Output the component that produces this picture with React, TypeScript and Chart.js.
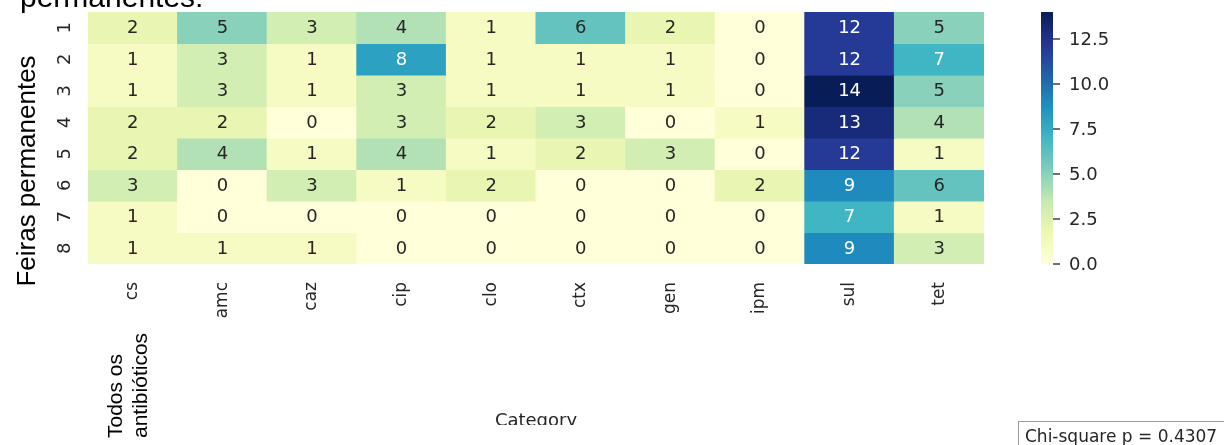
import React, { useEffect, useRef } from 'react';
import { Chart, registerables } from 'chart.js';

Chart.register(...registerables);

const categories = ['cs', 'amc', 'caz', 'cip', 'clo', 'ctx', 'gen', 'ipm', 'sul', 'tet'];
const rowLabels = ['1', '2', '3', '4', '5', '6', '7', '8'];

const feira1 = [2, 5, 3, 4, 1, 6, 2, 0, 12, 5];
const feira2 = [1, 3, 1, 8, 1, 1, 1, 0, 12, 7];
const feira3 = [1, 3, 1, 3, 1, 1, 1, 0, 14, 5];
const feira4 = [2, 2, 0, 3, 2, 3, 0, 1, 13, 4];
const feira5 = [2, 4, 1, 4, 1, 2, 3, 0, 12, 1];
const feira6 = [3, 0, 3, 1, 2, 0, 0, 2, 9, 6];
const feira7 = [1, 0, 0, 0, 0, 0, 0, 0, 7, 1];
const feira8 = [1, 1, 1, 0, 0, 0, 0, 0, 9, 3];
const counts = [feira1, feira2, feira3, feira4, feira5, feira6, feira7, feira8];

const colorMin = 0;
const colorMax = 14;
const colorbarTicks = [0, 2.5, 5, 7.5, 10, 12.5];
const ylgnbu = ['#ffffd9', '#edf8b1', '#c7e9b4', '#7fcdbb', '#41b6c4', '#1d91c0', '#225ea8', '#253494', '#081d58'];

const topText = 'permanentes:';
const yTitle = 'Feiras permanentes';
const xTitle = 'Category';
const noteLines = ['Todos os', 'antibióticos'];
const statText = 'Chi-square p = 0.4307';

const W = 1224;
const H = 445;
const MPL = '"DejaVu Sans", sans-serif';
const ARIAL = '"Liberation Sans", Arial, sans-serif';
const DARK = '#262626';

function hexToRgb(h: string): number[] {
  return [parseInt(h.slice(1, 3), 16), parseInt(h.slice(3, 5), 16), parseInt(h.slice(5, 7), 16)];
}
const stops = ylgnbu.map(hexToRgb);

function rgbFor(v: number): number[] {
  let t = (v - colorMin) / (colorMax - colorMin);
  t = Math.max(0, Math.min(1, t));
  const idx = Math.min(255, Math.floor(t * 256));
  const q = idx / 255;
  const pos = q * (stops.length - 1);
  const i = Math.min(stops.length - 2, Math.floor(pos));
  const f = pos - i;
  return stops[i].map((c, k) => c + (stops[i + 1][k] - c) * f);
}
function colorFor(v: number): string {
  const [r, g, b] = rgbFor(v);
  return `rgb(${Math.round(r)},${Math.round(g)},${Math.round(b)})`;
}
function textColorFor(v: number): string {
  const lin = rgbFor(v).map((c) => {
    const s = c / 255;
    return s <= 0.03928 ? s / 12.92 : Math.pow((s + 0.055) / 1.055, 2.4);
  });
  const lum = 0.2126 * lin[0] + 0.7152 * lin[1] + 0.0722 * lin[2];
  return lum > 0.408 ? DARK : '#ffffff';
}

const overlay = {
  id: 'overlay',
  afterDatasetsDraw(chart: any) {
    const ctx = chart.ctx as CanvasRenderingContext2D;
    ctx.save();
    ctx.font = `18px ${MPL}`;
    ctx.textAlign = 'center';
    ctx.textBaseline = 'middle';
    chart.data.datasets.forEach((_ds: any, di: number) => {
      const meta = chart.getDatasetMeta(di);
      meta.data.forEach((el: any, ci: number) => {
        const v = counts[di][ci];
        const p = el.getCenterPoint();
        ctx.fillStyle = textColorFor(v);
        ctx.fillText(String(v), p.x, p.y + 1);
      });
    });
    ctx.restore();
  },
  afterDraw(chart: any) {
    const ctx = chart.ctx as CanvasRenderingContext2D;
    const area = chart.chartArea;
    const yScale = chart.scales.y;
    const cb = chart.scales.cb;

    // row labels (rotated)
    ctx.save();
    ctx.font = `18px ${MPL}`;
    ctx.fillStyle = DARK;
    ctx.textAlign = 'center';
    ctx.textBaseline = 'alphabetic';
    rowLabels.forEach((lab, r) => {
      const y = yScale.getPixelForValue(r + 0.5);
      ctx.save();
      ctx.translate(area.left - 18, y);
      ctx.rotate(-Math.PI / 2);
      ctx.fillText(lab, 0, 0);
      ctx.restore();
    });
    ctx.restore();

    // y title
    ctx.save();
    ctx.font = `26px ${ARIAL}`;
    ctx.fillStyle = '#000';
    ctx.textAlign = 'center';
    ctx.textBaseline = 'alphabetic';
    ctx.translate(35, 171);
    ctx.rotate(-Math.PI / 2);
    ctx.fillText(yTitle, 0, 0);
    ctx.restore();

    // top (cut) title
    ctx.save();
    ctx.font = `30px ${ARIAL}`;
    ctx.fillStyle = '#000';
    ctx.textAlign = 'left';
    ctx.textBaseline = 'alphabetic';
    ctx.fillText(topText, 20, 7);
    ctx.restore();

    // note lines (rotated)
    ctx.save();
    ctx.font = `21px ${ARIAL}`;
    ctx.fillStyle = '#000';
    ctx.textAlign = 'left';
    ctx.textBaseline = 'alphabetic';
    noteLines.forEach((line, i) => {
      ctx.save();
      ctx.translate(122 + i * 25, 438);
      ctx.rotate(-Math.PI / 2);
      ctx.fillText(line, 0, 0);
      ctx.restore();
    });
    ctx.restore();

    // x title, clipped
    ctx.save();
    ctx.beginPath();
    ctx.rect(0, 0, W, 425);
    ctx.clip();
    ctx.font = `18px ${MPL}`;
    ctx.fillStyle = DARK;
    ctx.textAlign = 'center';
    ctx.textBaseline = 'alphabetic';
    ctx.fillText(xTitle, (area.left + area.right) / 2, 426);
    ctx.restore();

    // colorbar
    const bx = area.right + 57;
    const bw = 12;
    const top = cb.getPixelForValue(colorMax);
    const bottom = cb.getPixelForValue(colorMin);
    ctx.save();
    const grad = ctx.createLinearGradient(0, bottom, 0, top);
    ylgnbu.forEach((c, i) => grad.addColorStop(i / (ylgnbu.length - 1), c));
    ctx.fillStyle = grad;
    ctx.fillRect(bx, top, bw, bottom - top);
    ctx.strokeStyle = DARK;
    ctx.lineWidth = 1.3;
    ctx.font = `18px ${MPL}`;
    ctx.fillStyle = DARK;
    ctx.textAlign = 'left';
    ctx.textBaseline = 'middle';
    colorbarTicks.forEach((t) => {
      const y = cb.getPixelForValue(t);
      ctx.beginPath();
      ctx.moveTo(bx + bw, y);
      ctx.lineTo(bx + bw + 7, y);
      ctx.stroke();
      ctx.fillText(t.toFixed(1), bx + bw + 16, y + 1);
    });
    ctx.restore();

    // stat box
    ctx.save();
    ctx.fillStyle = '#ffffff';
    ctx.fillRect(1018.5, 421.5, 220, 30);
    ctx.strokeStyle = '#9a9a9a';
    ctx.lineWidth = 1;
    ctx.strokeRect(1018.5, 421.5, 220, 30);
    ctx.font = `17px ${MPL}`;
    ctx.fillStyle = DARK;
    ctx.textAlign = 'left';
    ctx.textBaseline = 'alphabetic';
    ctx.fillText(statText, 1025, 442);
    ctx.restore();
  },
};

export default function App() {
  const ref = useRef<HTMLCanvasElement | null>(null);
  useEffect(() => {
    if (!ref.current) return;
    const datasets = counts.map((row, r) => ({
      label: rowLabels[r],
      data: row.map(() => [r, r + 1]),
      backgroundColor: row.map((v) => colorFor(v)),
      borderWidth: 0,
      grouped: false,
      barPercentage: 1,
      categoryPercentage: 1,
      inflateAmount: 0.5,
    }));
    const chart = new Chart(ref.current, {
      type: 'bar',
      data: { labels: categories, datasets: datasets as any },
      options: {
        animation: false,
        responsive: false,
        devicePixelRatio: 1,
        layout: { padding: { top: 12, right: 240, left: 0, bottom: 0 } },
        plugins: { legend: { display: false }, tooltip: { enabled: false } },
        scales: {
          x: {
            type: 'category',
            offset: true,
            grid: { display: false, drawTicks: false },
            border: { display: false },
            ticks: {
              minRotation: 90,
              maxRotation: 90,
              padding: 18,
              color: DARK,
              font: { family: MPL, size: 17 },
            },
            afterFit: (s: any) => {
              s.height = H - 264;
            },
          },
          y: {
            type: 'linear',
            min: 0,
            max: rowLabels.length,
            reverse: true,
            grid: { display: false, drawTicks: false },
            border: { display: false },
            ticks: { display: false },
            afterFit: (s: any) => {
              s.width = 88;
            },
          },
          cb: {
            type: 'linear',
            position: 'right',
            display: false,
            min: colorMin,
            max: colorMax,
          },
        },
      } as any,
      plugins: [overlay],
    });
    return () => chart.destroy();
  }, []);
  return (
    <div style={{ position: 'absolute', left: 0, top: 0, width: W, height: H, background: '#fff' }}>
      <canvas ref={ref} width={W} height={H} style={{ display: 'block', width: W, height: H }} />
    </div>
  );
}
